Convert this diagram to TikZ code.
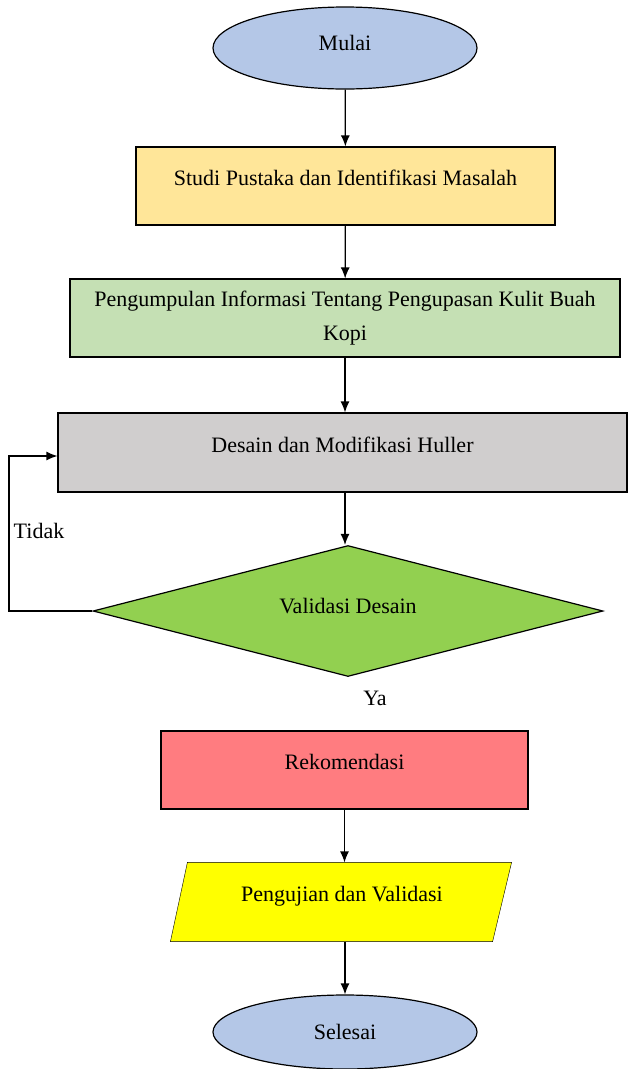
\documentclass[tikz,border=0pt]{standalone}
\usepackage{fontspec}
\setmainfont{Liberation Serif}
\usetikzlibrary{shapes,arrows,arrows.meta,positioning,calc,backgrounds}
\definecolor{startblue}{RGB}{180,199,231}
\definecolor{studyyellow}{RGB}{255,230,153}
\definecolor{infogreen}{RGB}{197,224,180}
\definecolor{designgray}{RGB}{208,206,206}
\definecolor{checkgreen}{RGB}{146,208,80}
\definecolor{recred}{RGB}{255,124,128}
\definecolor{testyellow}{RGB}{255,255,0}

\begin{document}
\begin{tikzpicture}[x=1pt,y=-1pt,line width=1.2pt,
	font=\fontsize{22}{34}\selectfont,
	flowarrow/.style={-{Latex[length=11pt,width=9pt]}},
	terminal/.style={draw, ellipse, fill=startblue, minimum width=264pt, minimum height=82pt},
	process/.style={draw, rectangle, minimum height=78pt, align=center},
	raised/.style={text depth=16pt}]
				\useasboundingbox (0,0) rectangle (627,1069);
				
				% Start and first steps
				\node[terminal, text depth=10pt] (mulai) at (345,48) {Mulai};
				\node[process, raised, fill=studyyellow, minimum width=419pt] (studi) at (345.5,186) {Studi Pustaka dan Identifikasi Masalah};
				\node[process, fill=infogreen, minimum width=550pt] (info) at (345,318) {Pengumpulan Informasi Tentang Pengupasan Kulit Buah\\Kopi};
				\node[process, raised, fill=designgray, minimum width=569pt, minimum height=79pt] (desain) at (342.5,452.5) {Desain dan Modifikasi Huller};
				
				% Decision
				\node[draw, diamond, aspect=3.9, fill=checkgreen, minimum width=510pt, minimum height=131pt, inner sep=0pt, text depth=10pt] (validasi) at (348,611) {Validasi Desain};
				
				% Last steps
				\node[process, raised, fill=recred, minimum width=367pt] (rekom) at (344.5,770) {Rekomendasi};
				\node[rectangle, raised, minimum width=304pt, minimum height=78pt] (uji) at (342,902) {Pengujian dan Validasi};
				\node[terminal, minimum height=74pt] (selesai) at (345,1032) {Selesai};
				\begin{scope}[on background layer]
					\draw[fill=testyellow] ($(uji.north west)+(-2,0)$) -- ($(uji.north east)+(17,0)$) -- ($(uji.south east)+(-2,0)$) -- ($(uji.south west)+(-19,0)$) -- cycle;
				\end{scope}
				
				% Connections
				\draw[flowarrow] (mulai) -- (studi);
				\draw[flowarrow] (studi) -- (info);
				\draw[flowarrow] (info) -- (desain.north -| info.south);
				\draw[flowarrow] (desain.south -| info.south) -- (validasi.north -| info.south);
				\coordinate (loop) at (9,611);
				\draw[flowarrow] (validasi.west) -- (loop) |- ($(desain.west)+(0,3.5)$);
				\draw[flowarrow] (rekom) -- (uji.north -| rekom.south);
				\draw[flowarrow] (uji.south -| selesai.north) -- (selesai);
				
				\node (tidak) at (39,531) {Tidak};
				\node (ya) at (375,698) {Ya};
			\end{tikzpicture}
\end{document}
